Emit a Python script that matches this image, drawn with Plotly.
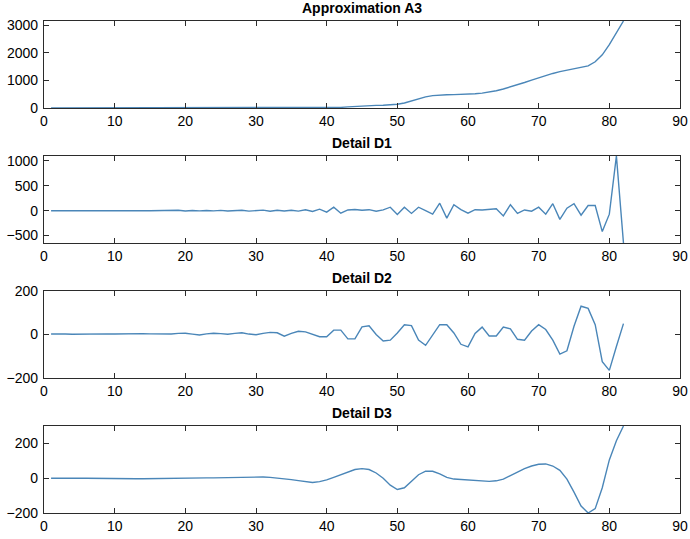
import plotly.graph_objects as go

x_idx = list(range(1, 83))

a3 = [2, 2, 2, 2, 2, 2, 2, 2, 2, 2,
      2, 2, 2, 2, 2, 2, 2, 2, 2, 2,
      2, 2, 2, 2, 2, 2, 2, 2, 2, 2,
      3, 3, 3, 4, 4, 5, 5, 6, 7, 8,
      12, 22, 40, 60, 80, 92, 97, 102, 110, 135,
      180, 260, 340, 405, 450, 472, 482, 487, 492, 500,
      518, 540, 575, 625, 690, 760, 840, 925, 1010, 1100,
      1180, 1255, 1320, 1370, 1415, 1460, 1530, 1680, 1930, 2300,
      2720, 3160]

d1 = [0, 3, -2, 4, -3, 2, -2, 3, -3, 2,
      -2, 3, -3, 2, -2, 4, -4, 3, 8, -5,
      4, -4, 5, -3, 6, -6, 5, 10, -8, 6,
      12, -10, 8, -6, 10, -8, 18, -15, 30, -30,
      70, -50, 15, 25, 10, 20, -10, 15, 70, -77,
      70, -55, 70, 0, -70, 150, -150, 120, 20, -50,
      20, 15, 20, 40, -105, 120, -55, 15, -10, 70,
      -70, 140, -175, 50, 140, -90, 105, 105, -420, -70,
      1100, -650]

d2 = [2, 3, 2, 1, 2, 3, 2, 2, 3, 2,
      3, 2, 3, 4, 3, 2, 1, 2, 5, 6,
      2, -2, 3, 6, 4, 1, 5, 8, 2, -1,
      5, 10, 8, -8, 5, 15, 12, 2, -10, -10,
      20, 20, -20, -20, 35, 40, 0, -30, -26, 7,
      45, 41, -26, -50, 0, 45, 45, 7, -45, -57,
      5, 34, -7, -7, 34, 26, -22, -26, 16, 45,
      23, -26, -90, -75, 38, 130, 120, 45, -125, -165,
      -55, 50]

d3 = [0, 1, 1, 1, 0, 0, -1, -1, -2, -2,
      -2, -3, -3, -3, -2, -2, -2, -1, -1, 0,
      1, 1, 2, 2, 3, 4, 5, 6, 7, 8,
      7, 5, 2, -3, -8, -14, -20, -25, -20, -10,
      5, 20, 38, 50, 55, 50, 30, 0, -40, -65,
      -55, -20, 20, 40, 40, 25, 5, -5, -8, -10,
      -12, -15, -18, -15, -5, 15, 35, 55, 70, 80,
      82, 70, 45, -5, -80, -160, -200, -175, -55, 105,
      215, 300]

titles = ["Approximation A3", "Detail D1", "Detail D2", "Detail D3"]
series = [a3, d1, d2, d3]
y_ranges = [[0, 3160], [-650, 1100], [-200, 200], [-200, 300]]
y_ticks = [[0, 1000, 2000, 3000], [-500, 0, 500, 1000], [-200, 0, 200], [-200, 0, 200]]
x_ticks = [0, 10, 20, 30, 40, 50, 60, 70, 80, 90]

W, H = 690, 539
box_tops = [21, 156, 291, 426]
box_h = 87

line_color = "#4a86b8"
axis_color = "#2b2b2b"
font_family = "Liberation Sans, Arial, sans-serif"

fig = go.Figure()
layout = dict(
    width=W, height=H,
    margin=dict(l=44, r=10, t=0, b=0, autoexpand=False),
    paper_bgcolor="white", plot_bgcolor="white",
    showlegend=False,
    font=dict(family=font_family, size=14, color="black"),
    annotations=[],
)

for i, (title, ys) in enumerate(zip(titles, series)):
    n = i + 1
    xa = "x" if n == 1 else f"x{n}"
    ya = "y" if n == 1 else f"y{n}"
    fig.add_trace(go.Scatter(x=x_idx, y=ys, mode="lines",
                             line=dict(color=line_color, width=1.4),
                             xaxis=xa, yaxis=ya, hoverinfo="skip"))
    top = box_tops[i]
    bot = top + box_h
    dom = [1 - bot / H, 1 - top / H]
    xkey = "xaxis" if n == 1 else f"xaxis{n}"
    ykey = "yaxis" if n == 1 else f"yaxis{n}"
    layout[xkey] = dict(domain=[0, 1], anchor=ya, range=[0, 90],
                        tickmode="array", tickvals=x_ticks,
                        ticks="inside", ticklen=5, tickcolor=axis_color,
                        showline=True, linecolor=axis_color, linewidth=1.2,
                        mirror="ticks", showgrid=False, zeroline=False,
                        automargin=False,
                        tickfont=dict(size=14, family=font_family))
    layout[ykey] = dict(domain=dom, anchor=xa, range=y_ranges[i],
                        tickmode="array", tickvals=y_ticks[i],
                        ticks="inside", ticklen=5, tickcolor=axis_color,
                        showline=True, linecolor=axis_color, linewidth=1.2,
                        mirror="ticks", showgrid=False, zeroline=False,
                        automargin=False,
                        tickfont=dict(size=14, family=font_family),
                        ticklabelstandoff=2)
    layout["annotations"].append(dict(
        text=f"<b>{title}</b>", x=0.5, xref="paper",
        y=1 - (top - 3) / H, yref="paper", yanchor="bottom",
        showarrow=False, font=dict(size=14, family=font_family, color="black")))

fig.update_layout(**layout)
fig.write_html("out.html",
               config={"displayModeBar": False},
               post_script="document.body.style.margin='0';document.body.style.overflow='hidden';")
